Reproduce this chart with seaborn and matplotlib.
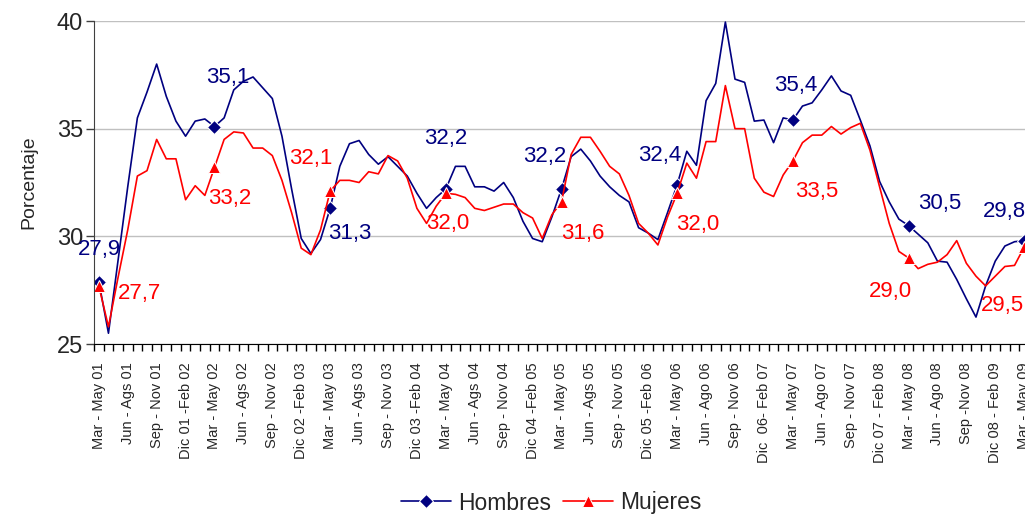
import numpy as np
import pandas as pd
import matplotlib
matplotlib.use('Agg')
import matplotlib.pyplot as plt
import seaborn as sns

# rolling quarter labels (one label every third month)
tick_labels = ['Mar - May 01', 'Jun - Ags 01', 'Sep - Nov 01', 'Dic 01 -Feb 02',
               'Mar - May 02', 'Jun - Ags 02', 'Sep - Nov 02', 'Dic 02 -Feb 03',
               'Mar - May 03', 'Jun - Ags 03', 'Sep - Nov 03', 'Dic 03 -Feb 04',
               'Mar - May 04', 'Jun - Ags 04', 'Sep - Nov 04', 'Dic 04 -Feb 05',
               'Mar - May 05', 'Jun - Ags 05', 'Sep - Nov 05', 'Dic 05 -Feb 06',
               'Mar - May 06', 'Jun - Ago 06', 'Sep - Nov 06', 'Dic  06- Feb 07',
               'Mar - May 07', 'Jun - Ago 07', 'Sep - Nov 07', 'Dic 07 - Feb 08',
               'Mar - May 08', 'Jun - Ago 08', 'Sep -Nov 08', 'Dic 08 - Feb 09',
               'Mar - May 09']

hombres = [27.9, 25.5, 28.9, 32.3, 35.5, 36.7, 38.0, 36.5, 35.35, 34.65, 35.35, 35.45,
           35.1, 35.5, 36.8, 37.2, 37.4, 36.9, 36.4, 34.65, 32.2, 29.9, 29.2, 29.85,
           31.3, 33.25, 34.3, 34.45, 33.8, 33.35, 33.7, 33.25, 32.8, 32.0, 31.3, 31.8,
           32.2, 33.25, 33.25, 32.3, 32.3, 32.1, 32.5, 31.8, 30.7, 29.9, 29.75, 30.9,
           32.2, 33.7, 34.05, 33.5, 32.8, 32.3, 31.9, 31.6, 30.4, 30.15, 29.85, 31.1,
           32.4, 33.95, 33.3, 36.3, 37.1, 39.95, 37.3, 37.15, 35.35, 35.4, 34.35, 35.5,
           35.4, 36.05, 36.2, 36.8, 37.45, 36.75, 36.55, 35.4, 34.2, 32.55, 31.6, 30.8,
           30.5, 30.1, 29.7, 28.85, 28.8, 28.0, 27.1, 26.25, 27.7, 28.85, 29.55, 29.75,
           29.8]

mujeres = [27.7, 25.8, 28.1, 30.3, 32.8, 33.05, 34.5, 33.6, 33.6, 31.7, 32.35, 31.9,
           33.2, 34.5, 34.85, 34.8, 34.1, 34.1, 33.75, 32.6, 31.1, 29.45, 29.15, 30.3,
           32.1, 32.6, 32.6, 32.5, 33.0, 32.9, 33.75, 33.5, 32.7, 31.3, 30.6, 31.4,
           32.0, 31.95, 31.8, 31.3, 31.2, 31.35, 31.5, 31.5, 31.1, 30.85, 29.9, 31.0,
           31.6, 33.8, 34.6, 34.6, 33.95, 33.25, 32.9, 31.9, 30.6, 30.15, 29.6, 30.9,
           32.0, 33.4, 32.7, 34.4, 34.4, 37.0, 35.0, 35.0, 32.7, 32.05, 31.85, 32.85,
           33.5, 34.35, 34.7, 34.7, 35.1, 34.75, 35.05, 35.25, 34.0, 32.3, 30.6, 29.3,
           29.0, 28.5, 28.7, 28.8, 29.15, 29.8, 28.75, 28.15, 27.7, 28.15, 28.6, 28.65,
           29.5]

# label offsets (pixels) from the yearly marker
off_h = [(1, 32), (13, 49), (20, -25), (0, 50), (-17, 32), (-17, 29), (3, 35), (31, 22), (-20, 29)]
off_m = [(41, -8), (15, -31), (-19, 33), (2, -30), (21, -32), (21, -31), (24, -31), (-18, -34), (-22, -58)]

azul = '#000080'
rojo = '#FF0000'

df = pd.DataFrame({'mes': np.arange(len(hombres)), 'Hombres': hombres, 'Mujeres': mujeres})

sns.set_style('white')
plt.rcParams['font.family'] = ['Liberation Sans', 'DejaVu Sans']

fig = plt.figure(figsize=(10.25, 5.14), dpi=100)
ax = fig.add_axes([94 / 1025, 170 / 514, 935 / 1025, 323 / 514])

sns.lineplot(data=df, x='mes', y='Hombres', ax=ax, color=azul, lw=1.2,
             marker='D', markersize=7, markevery=12, label='Hombres')
sns.lineplot(data=df, x='mes', y='Mujeres', ax=ax, color=rojo, lw=1.2,
             marker='^', markersize=9, markevery=12, label='Mujeres')

# yearly value labels
for k, i in enumerate(range(0, len(hombres), 12)):
    ax.annotate(f'{hombres[i]:.1f}'.replace('.', ','), (i, hombres[i]),
                xytext=off_h[k], textcoords='offset pixels', ha='center', va='center',
                fontsize=16, color=azul, annotation_clip=False)
    ax.annotate(f'{mujeres[i]:.1f}'.replace('.', ','), (i, mujeres[i]),
                xytext=off_m[k], textcoords='offset pixels', ha='center', va='center',
                fontsize=16, color=rojo, annotation_clip=False)

ax.set_xlim(-0.5, len(hombres) - 0.5)
ax.set_ylim(25, 40)
ax.set_yticks([25, 30, 35, 40])
ax.yaxis.grid(True, color='#C0C0C0', lw=1)
ax.set_axisbelow(True)

ax.set_xticks(np.arange(0, len(hombres), 3))
ax.set_xticklabels(tick_labels, rotation=90, fontsize=10.5)
ax.set_xticks(np.arange(-0.5, len(hombres), 1), minor=True)
ax.tick_params(axis='x', which='major', length=0, pad=13)
ax.tick_params(axis='x', which='minor', length=5, width=1, color='black', direction='out', bottom=True)
ax.tick_params(axis='y', length=6, width=1, color='#404040', direction='out', left=True,
               labelsize=17, pad=2)

sns.despine(ax=ax)
ax.spines['left'].set_color('#404040')
ax.spines['bottom'].set_color('black')

ax.set_xlabel('')
ax.set_ylabel('Porcentaje', fontsize=14, labelpad=14)

leg = ax.legend(loc='center', bbox_to_anchor=(551 / 1025, 11 / 514), bbox_transform=fig.transFigure,
                ncol=2, frameon=False, fontsize=16.5, handlelength=2.2, columnspacing=0.5,
                handletextpad=0.3)

plt.savefig('out.png', dpi=100)
